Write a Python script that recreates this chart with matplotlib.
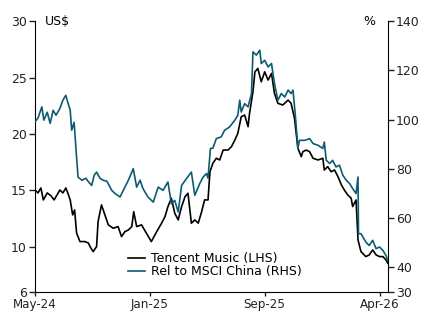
import matplotlib
matplotlib.use("Agg")
import matplotlib.pyplot as plt
import pandas as pd

# x values are days since 15 May 2024
start = pd.Timestamp("2024-05-15")

tme_day = [0, 6, 12, 17, 25, 33, 39, 45, 51, 57, 63, 67, 72, 77, 81, 85, 92, 102,
           109, 114, 119, 126, 129, 136, 143, 150, 160, 170, 177, 184, 191, 198,
           202, 208, 218, 228, 238, 249, 259, 266, 272, 279, 286, 293, 300, 307,
           313, 320, 327, 334, 341, 347, 354, 358, 364, 371, 378, 385, 395, 402,
           409, 415, 422, 429, 436, 439, 446, 450, 456, 463, 470, 477, 484, 490,
           497, 507, 518, 524, 531, 538, 545, 548, 555, 562, 569, 579, 589, 592,
           599, 606, 613, 620, 627, 633, 640, 647, 650, 657, 661, 667, 677, 684,
           691, 698, 705, 712, 718, 722]
tme_px = [15.04, 14.78, 15.22, 14.16, 14.78, 14.51, 14.16, 14.6, 15.04, 14.78,
          15.22, 14.78, 14.16, 12.83, 13.27, 11.24, 10.47, 10.47, 10.35, 9.91,
          9.58, 10.03, 12.24, 13.72, 12.83, 11.95, 11.65, 11.8, 10.91, 11.35,
          11.5, 11.8, 13.12, 11.8, 11.95, 11.21, 10.47, 11.35, 12.1, 12.68,
          13.57, 14.31, 12.98, 12.39, 13.57, 14.45, 14.75, 12.1, 12.39, 12.1,
          13.12, 14.16, 14.16, 16.66, 17.41, 17.85, 17.7, 18.58, 18.58, 18.88,
          19.47, 20.06, 21.53, 21.68, 20.65, 21.83, 23.74, 25.51, 25.81, 24.63,
          25.51, 24.78, 25.37, 23.6, 22.72, 22.57, 23.01, 22.72, 21.39, 18.73,
          17.99, 18.43, 18.58, 18.43, 17.85, 17.7, 17.85, 16.81, 17.11, 16.66,
          16.81, 16.22, 15.49, 15.04, 14.6, 14.31, 13.57, 14.16, 10.62, 9.58,
          9.14, 9.29, 9.73, 9.29, 9.14, 9.14, 8.85, 8.56]

rel_day = [0, 6, 14, 18, 25, 31, 37, 43, 51, 57, 63, 67, 72, 75, 80, 85, 88, 96,
           104, 110, 116, 121, 126, 133, 139, 147, 157, 163, 174, 184, 191, 201,
           208, 215, 221, 231, 242, 252, 262, 272, 279, 286, 293, 300, 310, 320,
           327, 337, 344, 351, 354, 359, 364, 371, 381, 388, 398, 409, 415, 419,
           422, 429, 436, 443, 446, 453, 460, 463, 470, 477, 484, 487, 490, 497,
           504, 511, 518, 524, 528, 533, 538, 541, 552, 562, 569, 579, 589, 592,
           596, 603, 609, 616, 623, 630, 637, 644, 650, 657, 661, 662, 667, 677,
           684, 691, 698, 705, 712, 718, 722]
rel_msci = [99.1, 100.6, 105.2, 99.8, 103.0, 98.5, 103.8, 101.8, 104.6, 107.9,
            109.9, 107.1, 103.8, 95.7, 98.9, 84.8, 76.7, 75.4, 76.2, 74.6, 73.3,
            77.4, 78.7, 76.2, 75.4, 75.0, 71.3, 70.1, 68.6, 72.6, 75.4, 80.1,
            72.6, 75.4, 72.0, 68.6, 66.5, 72.6, 71.3, 74.7, 65.9, 67.2, 62.5,
            73.3, 76.1, 78.7, 69.3, 74.0, 76.7, 78.1, 76.2, 88.3, 88.4, 92.3,
            93.0, 95.7, 97.0, 99.8, 101.8, 107.9, 103.1, 106.5, 105.2, 110.6,
            127.5, 126.2, 128.2, 122.8, 124.1, 121.4, 122.8, 118.7, 114.7, 107.9,
            110.6, 109.2, 112.0, 110.6, 112.0, 101.1, 88.3, 91.6, 91.6, 92.3,
            90.3, 89.6, 88.3, 90.9, 83.5, 82.2, 83.5, 80.8, 81.5, 77.4, 75.4,
            74.0, 72.0, 70.0, 76.7, 53.7, 53.7, 50.3, 48.9, 51.0, 47.6, 48.3,
            46.9, 44.9, 42.8]

tick_dates = ["2024-05-15", "2025-01-05", "2025-08-28", "2026-04-20"]
tick_labels = ["May-24", "Jan-25", "Sep-25", "Apr-26"]
left_ticks = [6, 10, 15, 20, 25, 30]
right_ticks = [30, 40, 60, 80, 100, 120, 140]

BLACK = "#000000"
TEAL = "#0c5b71"
FS = 9

tme_dates = start + pd.to_timedelta(tme_day, unit="D")
rel_dates = start + pd.to_timedelta(rel_day, unit="D")

plt.rcParams["font.family"] = "DejaVu Sans"
fig = plt.figure(figsize=(4.22, 3.11), dpi=100)
ax = fig.add_axes([0.083, 0.061, 0.836, 0.871])
ax2 = ax.twinx()

l1, = ax.plot(tme_dates, tme_px, color=BLACK, lw=1.2, label="Tencent Music (LHS)")
l2, = ax2.plot(rel_dates, rel_msci, color=TEAL, lw=1.2, label="Rel to MSCI China (RHS)")

ax.set_xlim(start, start + pd.Timedelta(days=722))
ax.set_ylim(6, 30)
ax2.set_ylim(30, 140)
ax.set_yticks(left_ticks)
ax2.set_yticks(right_ticks)
ax.set_xticks(pd.to_datetime(tick_dates))
ax.set_xticklabels(tick_labels)

for a in (ax, ax2):
    a.tick_params(direction="out", length=4, width=1, labelsize=FS, colors="#222222",
                  pad=2)
    a.spines["top"].set_visible(False)
ax.tick_params(axis="x", length=3, pad=1, labelsize=8.6)
ax.spines["right"].set_visible(False)
ax2.spines["left"].set_visible(False)
ax2.spines["bottom"].set_visible(False)

ax.text(0.028, 1.0, "US$", transform=ax.transAxes, fontsize=FS, va="center", ha="left")
ax2.text(0.963, 1.0, "%", transform=ax.transAxes, fontsize=FS, va="center", ha="right")

ax2.legend(handles=[l1, l2], loc="lower left", bbox_to_anchor=(0.263, 0.05),
           frameon=False, fontsize=FS, borderpad=0, borderaxespad=0,
           handlelength=1.35, handletextpad=0.5, labelspacing=0.0)

fig.savefig("out.png", dpi=100)
